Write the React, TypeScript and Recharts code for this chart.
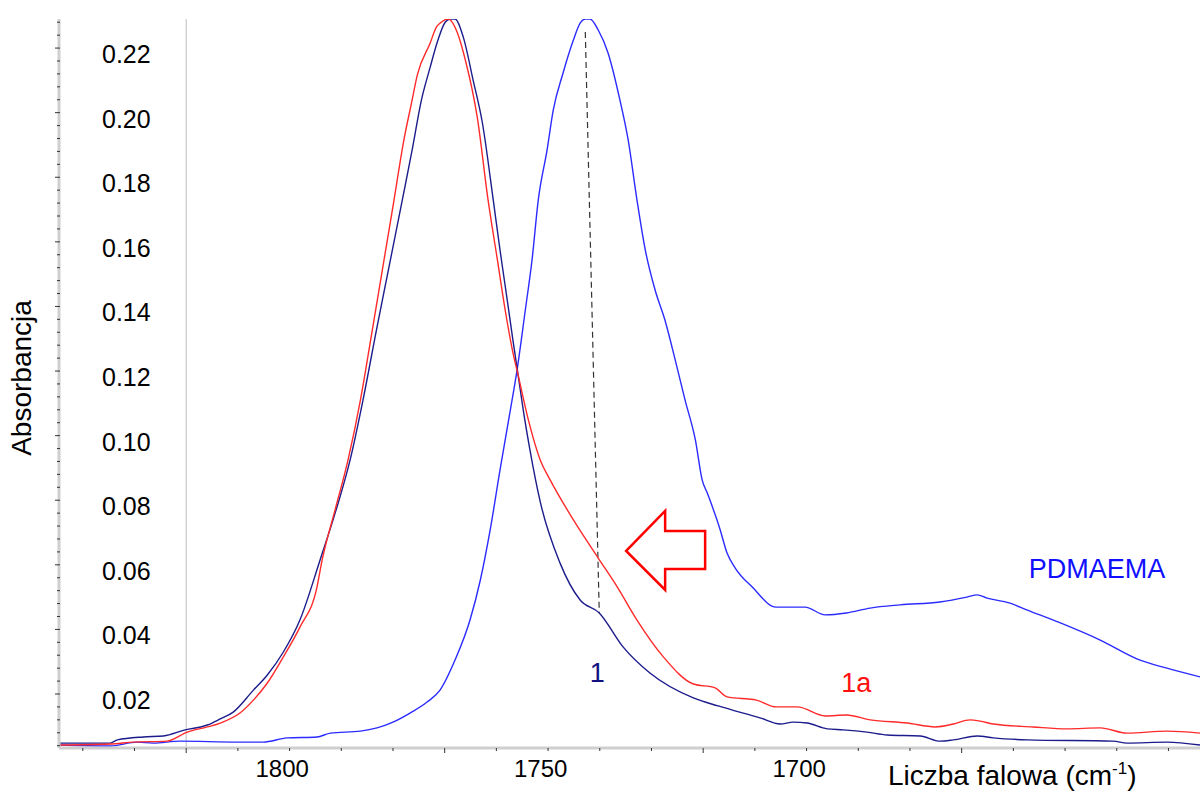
import { LineChart, Line, XAxis, YAxis, ReferenceLine, ReferenceDot } from "recharts"

// wavenumber (cm-1) / absorbance
const wn1 = [1824.6, 1814.7, 1813.3, 1808.3, 1804.4, 1800.2, 1795.9, 1793.4, 1790.9, 1787.0, 1784.3, 1781.2, 1778.0, 1774.1, 1771.0, 1768.3, 1765.8, 1763.2, 1760.7, 1758.2, 1756.3, 1754.5, 1752.8, 1751.3, 1749.9, 1748.9, 1748.0, 1746.4, 1744.5, 1742.7, 1740.6, 1739.3, 1737.9, 1736.8, 1735.8, 1734.8, 1733.5, 1731.5, 1727.7, 1723.8, 1720.1, 1715.5, 1710.3, 1701.9, 1697.1, 1689.0, 1685.1, 1682.6, 1679.9, 1676.0, 1672.9, 1668.3, 1664.4, 1658.0, 1654.2, 1651.6, 1647.0, 1643.9, 1637.3, 1620.7, 1618.0, 1610.3, 1603.9]
const abs1 = [0.0048, 0.0048, 0.0058, 0.0067, 0.0070, 0.0089, 0.0104, 0.0123, 0.0144, 0.0212, 0.0259, 0.0330, 0.0429, 0.0615, 0.0770, 0.0924, 0.1110, 0.1327, 0.1528, 0.1729, 0.1884, 0.2039, 0.2141, 0.2225, 0.2280, 0.2290, 0.2290, 0.2234, 0.2101, 0.1968, 0.1729, 0.1575, 0.1420, 0.1296, 0.1188, 0.1079, 0.0955, 0.0794, 0.0606, 0.0491, 0.0451, 0.0346, 0.0265, 0.0188, 0.0163, 0.0126, 0.0107, 0.0113, 0.0110, 0.0092, 0.0089, 0.0082, 0.0073, 0.0070, 0.0054, 0.0058, 0.0070, 0.0064, 0.0058, 0.0054, 0.0048, 0.0051, 0.0042]

const wn1a = [1824.6, 1814.7, 1810.3, 1803.7, 1799.8, 1795.9, 1793.4, 1789.6, 1787.0, 1784.3, 1781.2, 1778.0, 1774.7, 1773.7, 1771.2, 1768.7, 1766.3, 1764.0, 1761.9, 1759.8, 1758.0, 1756.3, 1755.3, 1752.8, 1751.6, 1750.9, 1749.3, 1747.6, 1746.0, 1743.7, 1741.6, 1739.8, 1738.3, 1736.9, 1735.8, 1733.8, 1731.5, 1729.6, 1725.1, 1720.3, 1716.6, 1712.8, 1707.7, 1701.9, 1697.7, 1695.4, 1689.7, 1685.9, 1681.8, 1676.4, 1672.3, 1667.7, 1660.5, 1655.1, 1651.6, 1648.4, 1646.4, 1643.9, 1636.2, 1629.6, 1623.2, 1618.0, 1610.3, 1603.9]
const abs1a = [0.0042, 0.0045, 0.0051, 0.0054, 0.0082, 0.0098, 0.0110, 0.0141, 0.0181, 0.0234, 0.0315, 0.0407, 0.0531, 0.0615, 0.0770, 0.0924, 0.1110, 0.1327, 0.1528, 0.1729, 0.1906, 0.2039, 0.2116, 0.2216, 0.2265, 0.2277, 0.2290, 0.2250, 0.2163, 0.1986, 0.1729, 0.1544, 0.1389, 0.1265, 0.1188, 0.1048, 0.0924, 0.0863, 0.0739, 0.0621, 0.0531, 0.0429, 0.0315, 0.0231, 0.0219, 0.0191, 0.0181, 0.0160, 0.0160, 0.0132, 0.0135, 0.0120, 0.0110, 0.0098, 0.0107, 0.0120, 0.0116, 0.0107, 0.0098, 0.0092, 0.0095, 0.0079, 0.0085, 0.0079]

const wnP = [1824.6, 1814.7, 1809.5, 1806.4, 1801.2, 1790.1, 1785.1, 1780.5, 1774.7, 1772.1, 1766.3, 1763.1, 1760.0, 1756.7, 1753.4, 1750.9, 1748.0, 1745.1, 1743.1, 1741.2, 1739.3, 1737.3, 1736.0, 1734.4, 1733.1, 1731.9, 1730.2, 1729.0, 1727.1, 1725.1, 1723.8, 1722.8, 1721.9, 1720.3, 1718.4, 1716.1, 1714.5, 1712.8, 1711.2, 1709.3, 1707.4, 1705.4, 1703.5, 1701.5, 1700.2, 1699.2, 1696.7, 1695.4, 1693.8, 1690.5, 1685.9, 1680.3, 1676.4, 1672.3, 1667.7, 1661.9, 1654.2, 1649.0, 1647.0, 1645.1, 1640.8, 1637.3, 1630.9, 1623.2, 1615.5, 1610.3, 1603.9]
const absP = [0.0042, 0.0039, 0.0051, 0.0048, 0.0054, 0.0051, 0.0051, 0.0064, 0.0067, 0.0079, 0.0085, 0.0095, 0.0113, 0.0141, 0.0175, 0.0212, 0.0305, 0.0429, 0.0553, 0.0708, 0.0893, 0.1079, 0.1203, 0.1389, 0.1544, 0.1729, 0.1884, 0.2008, 0.2123, 0.2225, 0.2277, 0.2290, 0.2290, 0.2256, 0.2185, 0.2039, 0.1915, 0.1729, 0.1575, 0.1451, 0.1358, 0.1234, 0.1110, 0.0986, 0.0863, 0.0822, 0.0708, 0.0637, 0.0590, 0.0531, 0.0469, 0.0469, 0.0445, 0.0451, 0.0466, 0.0476, 0.0485, 0.0500, 0.0507, 0.0497, 0.0482, 0.0460, 0.0420, 0.0367, 0.0305, 0.0280, 0.0253]

const xTicks = Array.from({ length: 22 }, (_, i) => 1610 + i * 10)
const xLabels = [1800, 1750, 1700]
const yTicks = Array.from({ length: 57 }, (_, i) => Math.round((i + 1) * 4) / 1000)

// annotations, in data units
const peakMarker = [{ x: 1722.8, y: 0.225 }, { x: 1720.1, y: 0.0451 }]
const arrowTip = { x: 1714.9, y: 0.0643 }
const seriesLabels = [
  { text: "PDMAEMA", x: 1623.8, y: 0.0587, color: "#1010ff" },
  { text: "1", x: 1720.5, y: 0.0265, color: "#101080" },
  { text: "1a", x: 1670.4, y: 0.0234, color: "#ff1010" },
]

const pts = (xs: number[], ys: number[]) => xs.map((x, i) => ({ x, y: ys[i] }))

const FONT = "Arial, 'Liberation Sans', Helvetica, sans-serif"

const XTick = (props: any) => {
  const { x, y, payload } = props
  const v = payload.value
  const major = v % 50 === 0
  return (
    <g>
      <line x1={x} x2={x} y1={y} y2={y + (major ? 5 : 3)} stroke="#333" strokeWidth={1} />
      {xLabels.includes(v) && (
        <text x={x + 96} y={y + 29} textAnchor="middle" fontSize={24} fontFamily={FONT} fill="#000">
          {v}
        </text>
      )}
    </g>
  )
}

const YTick = (props: any) => {
  const { x, y, payload } = props
  const v = payload.value
  const major = Math.round(v * 1000) % 20 === 0
  return (
    <g>
      <line x1={x - (major ? 4 : 2)} x2={x + 1} y1={y} y2={y} stroke="#333" strokeWidth={1} />
      {major && (
        <text x={x + 43} y={y + 15} textAnchor="start" fontSize={25} fontFamily={FONT} fill="#000">
          {v.toFixed(2)}
        </text>
      )}
    </g>
  )
}

export default function App() {
  return (
    <div style={{ position: "absolute", left: 0, top: 0, background: "#fff" }}>
      <LineChart width={1200} height={792} margin={{ top: 19, right: 0, bottom: 0, left: 0 }}>
        <XAxis
          type="number"
          dataKey="x"
          domain={[1603.9, 1824.6]}
          reversed
          allowDataOverflow
          ticks={xTicks}
          interval={0}
          tick={XTick}
          tickLine={false}
          tickSize={0}
          tickMargin={0}
          height={44}
          axisLine={{ stroke: "#cfcfcf", strokeWidth: 3 }}
          label={(p: any) => {
            const vb = p.viewBox
            return (
              <text x={vb.x + 829} y={vb.y + 37} fontSize={28} fontFamily={FONT} fill="#000">
                Liczba falowa (cm
                <tspan fontSize={17} dy={-11}>-1</tspan>
                <tspan dy={11}>)</tspan>
              </text>
            )
          }}
        />
        <YAxis
          type="number"
          dataKey="y"
          domain={[0.00328, 0.229]}
          allowDataOverflow
          ticks={yTicks}
          interval={0}
          tick={YTick}
          tickLine={false}
          tickSize={0}
          tickMargin={0}
          width={59}
          axisLine={{ stroke: "#cfcfcf", strokeWidth: 3 }}
        />
        <text
          x={31}
          y={378}
          transform="rotate(-90 31 378)"
          textAnchor="middle"
          fontSize={28}
          fontFamily={FONT}
          fill="#000"
        >
          Absorbancja
        </text>
        <ReferenceLine x={1800} stroke="#bdbdbd" strokeWidth={1} />
        <ReferenceLine segment={peakMarker} stroke="#333" strokeWidth={1.2} strokeDasharray="6 4" />
        <Line data={pts(wnP, absP)} dataKey="y" type="monotone" stroke="#2b2bff" strokeWidth={1.4} dot={false} activeDot={false} isAnimationActive={false} />
        <Line data={pts(wn1, abs1)} dataKey="y" type="monotone" stroke="#1c1c8c" strokeWidth={1.4} dot={false} activeDot={false} isAnimationActive={false} />
        <Line data={pts(wn1a, abs1a)} dataKey="y" type="monotone" stroke="#ff2a2a" strokeWidth={1.4} dot={false} activeDot={false} isAnimationActive={false} />
        <ReferenceDot
          x={arrowTip.x}
          y={arrowTip.y}
          r={0}
          shape={(p: any) => {
            const { cx, cy } = p
            const pointsStr = [
              [cx, cy],
              [cx + 39, cy - 40],
              [cx + 39, cy - 20],
              [cx + 79, cy - 20],
              [cx + 79, cy + 18],
              [cx + 39, cy + 18],
              [cx + 39, cy + 39],
            ]
              .map((q) => q.join(","))
              .join(" ")
            return <polygon points={pointsStr} fill="none" stroke="#ff0000" strokeWidth={2.5} strokeLinejoin="miter" />
          }}
        />
        {seriesLabels.map((l) => (
          <ReferenceDot
            key={l.text}
            x={l.x}
            y={l.y}
            r={0}
            shape={(p: any) => (
              <text
                x={p.cx}
                y={p.cy}
                textAnchor="middle"
                dominantBaseline="central"
                fontSize={27}
                fontFamily={FONT}
                fill={l.color}
              >
                {l.text}
              </text>
            )}
          />
        ))}
      </LineChart>
    </div>
  )
}
